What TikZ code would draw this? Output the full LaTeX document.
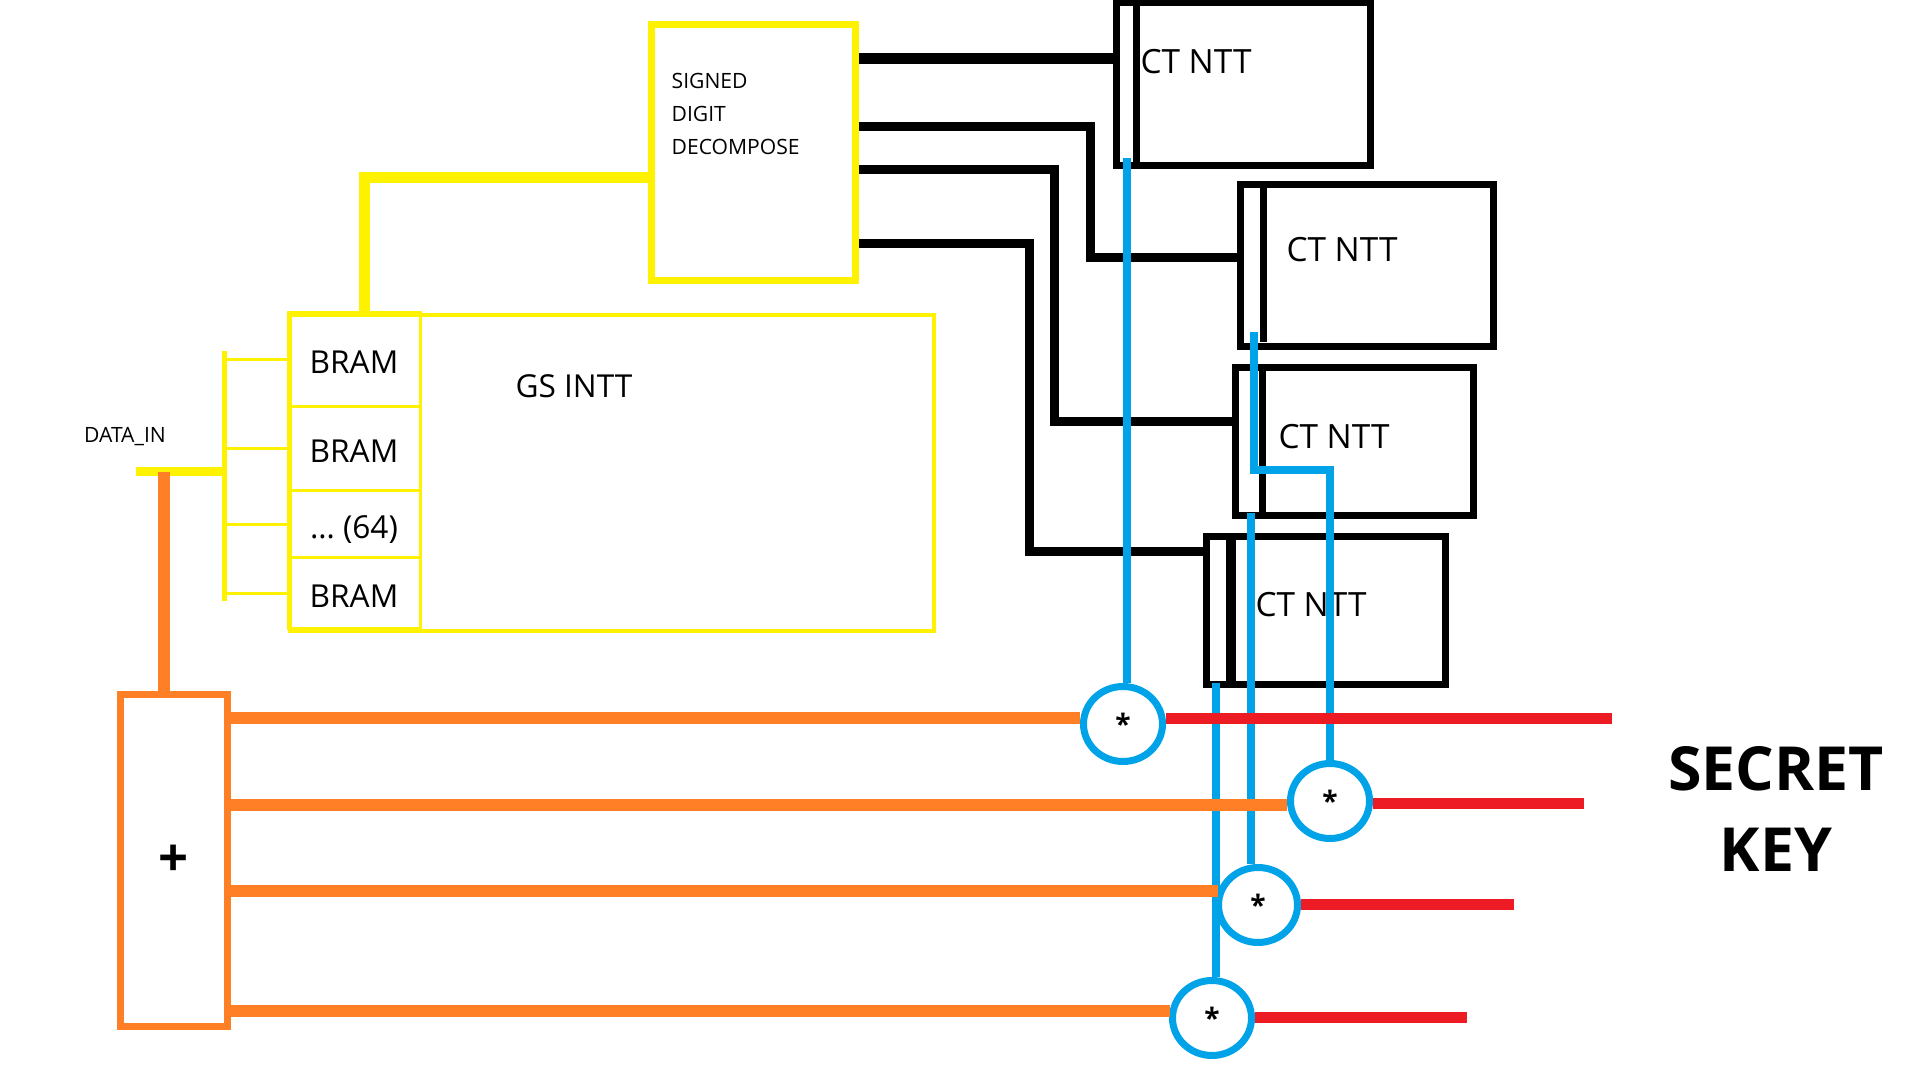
\documentclass[tikz,border=0pt]{standalone}
\usepackage{fontspec}
\setmainfont{Open Sans}
\usepackage{tikz}
\usetikzlibrary{positioning,shapes.geometric,calc}

\definecolor{pyellow}{HTML}{FFF200}
\definecolor{porange}{HTML}{FF7F27}
\definecolor{pred}{HTML}{ED1C24}
\definecolor{pblue}{HTML}{00A2E8}

\begin{document}
\begin{tikzpicture}[
    font=\fontsize{9}{11}\selectfont,
    ybox/.style   ={draw=pyellow, line width=0.4mm, inner sep=0pt},
    ycell/.style  ={draw=pyellow, line width=0.3mm, inner sep=0pt, outer sep=0pt, minimum width=13.2mm, text height=2.8mm, text depth=0pt},
    ntt/.style    ={draw=black, line width=0.7mm, inner sep=0pt},
    nlabel/.style ={font=\fontsize{9.5}{11}\selectfont, inner sep=0pt},
    small/.style  ={font=\fontsize{6}{9.4}\selectfont, align=left, inner sep=0pt},
    ybus/.style   ={draw=pyellow, line width=1.1mm},
    ywire/.style  ={draw=pyellow, line width=0.3mm},
    bus/.style    ={draw=black, line width=0.9mm},
    kline/.style  ={draw=pblue, line width=0.8mm},
    oline/.style  ={draw=porange, line width=1.2mm},
    rline/.style  ={draw=pred, line width=1.1mm},
    mult/.style   ={ellipse, draw=pblue, line width=0.7mm, minimum width=7.9mm, minimum height=7.5mm, inner sep=0pt, font=\fontsize{8}{9}\selectfont\bfseries},
  ]
  \useasboundingbox (0,0) rectangle (192mm,108mm);

  % decompose unit and inverse transform
  \node[ybox, line width=0.7mm, minimum width=20.4mm, minimum height=25.6mm] (sdd) at (75.3mm,92.7mm) {};
  \node[small, anchor=north west] at ([xshift=2.35mm,yshift=-5.1mm]sdd.north west) {SIGNED\\DIGIT\\DECOMPOSE};
  \node[ybox, minimum width=64.4mm, minimum height=31.6mm] (gsintt) at (61.2mm,60.7mm) {};
  \node at ([xshift=28.6mm,yshift=-7.3mm]gsintt.north west) {GS INTT};
  \node[ycell, minimum height=9.4mm, anchor=north west] (bram1) at (gsintt.north west) {BRAM};
  \node[ycell, minimum height=8.4mm, below=0pt of bram1] (bram2) {BRAM};
  \node[ycell, minimum height=6.7mm, below=0pt of bram2] (bram3) {\ldots\ (64)};
  \node[ycell, minimum height=7.1mm, below=0pt of bram3] (bram4) {BRAM};
  \draw[ybus] ([yshift=-2.5mm]sdd.west) -| ([xshift=7.6mm]gsintt.north west);

  % input fan-out
  \coordinate (combtop) at (22.4mm,72.9mm);
  \coordinate (combbot) at (22.4mm,47.9mm);
  \draw[ywire, line width=0.5mm] (combtop) -- (combbot);
  \foreach \i in {1,...,4}
    \draw[ywire] (combtop |- bram\i.west) -- (bram\i.west);
  \node[small] (datain) at (12.5mm,64.3mm) {DATA\_IN};
  \coordinate (din) at (13.6mm,60.8mm);
  \draw[ybus, line width=0.9mm] (din) -- (din -| combtop);

  % adder
  \node[draw=porange, line width=0.7mm, minimum width=10.7mm, minimum height=33.2mm, font=\fontsize{15}{16}\selectfont\bfseries] (adder) at (17.35mm,21.9mm) {+};
  \coordinate (split) at (16.4mm,60.8mm);
  \draw[oline] (split) -- (split |- adder.north);

  % forward transforms
  \node[ntt, minimum width=25.4mm, minimum height=16.3mm] (ct1) at (124.3mm,99.55mm) {};
  \node[ntt, minimum width=25.3mm, minimum height=16.2mm] (ct2) at (136.65mm,81.4mm) {};
  \node[ntt, minimum width=23.8mm, minimum height=14.8mm] (ct3) at (135.4mm,63.8mm) {};
  \node[ntt, minimum width=23.9mm, minimum height=14.8mm] (ct4) at (132.55mm,46.9mm) {};
  \draw[line width=0.7mm] ([xshift=2.35mm]ct1.north west) -- ([xshift=2.35mm]ct1.south west);
  \draw[line width=0.7mm] ([xshift=2.65mm]ct2.north west) -- ([xshift=2.65mm,yshift=0.85mm]ct2.south west);
  \draw[line width=0.7mm] ([xshift=3.05mm]ct3.north west) -- ([xshift=3.05mm]ct3.south west);
  \draw[line width=1.0mm] ([xshift=2.85mm]ct4.north west) -- ([xshift=2.85mm]ct4.south west);
  \node[nlabel] at ([xshift=8.35mm,yshift=-6.25mm]ct1.north west) {CT NTT};
  \node[nlabel] at ([xshift=10.55mm,yshift=-6.85mm]ct2.north west) {CT NTT};
  \node[nlabel] at ([xshift=10.25mm,yshift=-7.25mm]ct3.north west) {CT NTT};
  \node[nlabel] at ([xshift=10.85mm,yshift=-7.15mm]ct4.north west) {CT NTT};

  \draw[bus, line width=1.1mm] ([yshift=9.4mm]sdd.east) coordinate (a0) -- (a0 -| ct1.west);
  \draw[bus] ([yshift=2.6mm]sdd.east) -| ([xshift=-14.65mm,yshift=0.8mm]ct2.west) -- ([yshift=0.8mm]ct2.west);
  \draw[bus] ([yshift=-1.7mm]sdd.east) -| ([xshift=-17.75mm,yshift=2.0mm]ct3.west) -- ([yshift=2.0mm]ct3.west);
  \draw[bus] ([yshift=-9.1mm]sdd.east) -| ([xshift=-17.35mm,yshift=5.9mm]ct4.west) -- ([yshift=5.9mm]ct4.west);

  % multipliers
  \node[mult] (c1) at (112.3mm,35.6mm) {*};
  \node[mult] (c2) at (133.0mm,27.9mm) {*};
  \node[mult] (c3) at (125.8mm,17.5mm) {*};
  \node[mult] (c4) at (121.2mm,6.2mm) {*};

  \draw[kline] ([xshift=1.45mm,yshift=1.15mm]ct1.south west) coordinate (k1) -- (k1 |- c1.north);
  \draw[kline] ([xshift=1.75mm,yshift=1.85mm]ct2.south west) |- ($(c2.north |- ct3.north)+(0,-10.55mm)$) -- (c2.north);
  \draw[kline] ([xshift=1.95mm,yshift=0.65mm]ct3.south west) coordinate (k3) -- (k3 |- c3.north);
  \draw[kline] ([xshift=1.35mm,yshift=0.55mm]ct4.south west) coordinate (k4) -- (k4 |- c4.north);

  \foreach \c/\a in {c1/172, c2/185, c3/161, c4/171}
    \draw[oline] (adder.east |- \c.\a) -- (\c.\a);

  \coordinate (key1) at (161.2mm,0);
  \coordinate (key2) at (158.4mm,0);
  \coordinate (key3) at (151.4mm,0);
  \coordinate (key4) at (146.7mm,0);
  \foreach \c/\a/\k in {c1/8/key1, c2/357/key2, c3/0/key3, c4/0/key4}
    \draw[rline] (\c.\a) -- (\c.\a -| \k);

  \node[font=\fontsize{17.3}{22.8}\selectfont\bfseries, align=center] (secret) at (177.6mm,27.1mm) {SECRET\\KEY};
\end{tikzpicture}
\end{document}
